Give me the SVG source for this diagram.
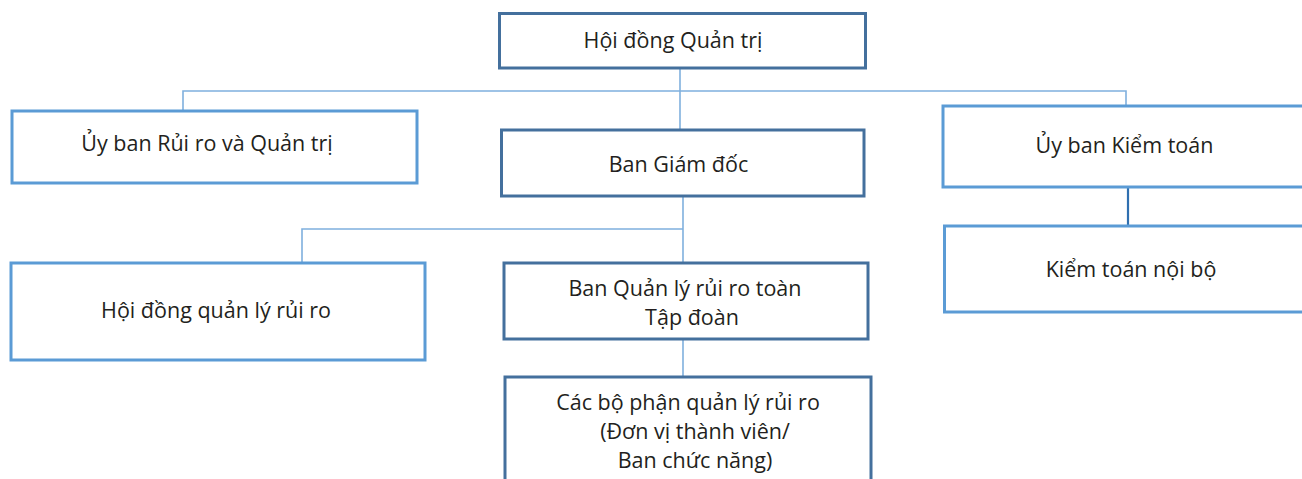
<svg xmlns="http://www.w3.org/2000/svg" width="1302" height="479" viewBox="0 0 1302 479">
<style>
.dark{fill:#fff;stroke:#44709d;stroke-width:3}
.light{fill:#fff;stroke:#5b9bd5;stroke-width:3}
.c{fill:none;stroke:#7fb0de;stroke-width:1.6}
.c2{fill:none;stroke:#2f6fb0;stroke-width:2.2}
text{font-family:"Open Sans","Noto Sans",sans-serif;font-size:21.5px;fill:#231f20;text-anchor:middle}
</style>
<rect width="1302" height="479" fill="#fff"/>
<g id="connectors">
<polyline class="c" points="183,111 183,91 1126,91 1126,106"/>
<line class="c" x1="680" y1="68" x2="680" y2="130"/>
<polyline class="c" points="302,263 302,229 683,229"/>
<line class="c" x1="683" y1="196" x2="683" y2="263"/>
<line class="c" x1="683" y1="339" x2="683" y2="377"/>
<line class="c2" x1="1128" y1="187" x2="1128" y2="226"/>
</g>
<g id="n1"><rect class="dark" x="499.5" y="13.5" width="366" height="54.5"/><text x="673" y="48">Hội đồng Quản trị</text></g>
<g id="n2"><rect class="light" x="12" y="111" width="405" height="72"/><text x="207" y="151">Ủy ban Rủi ro và Quản trị</text></g>
<g id="n3"><rect class="dark" x="501.5" y="130" width="362.5" height="66"/><text x="678.5" y="172">Ban Giám đốc</text></g>
<g id="n4"><rect class="light" x="943" y="106" width="380" height="81"/><text x="1124.5" y="153">Ủy ban Kiểm toán</text></g>
<g id="n5"><rect class="light" x="944.5" y="226" width="380" height="86"/><text x="1131" y="277">Kiểm toán nội bộ</text></g>
<g id="n6"><rect class="light" x="11" y="263" width="414" height="97"/><text x="216" y="318">Hội đồng quản lý rủi ro</text></g>
<g id="n7"><rect class="dark" x="504" y="263" width="364" height="76"/><text x="685" y="296">Ban Quản lý rủi ro toàn</text><text x="692" y="325">Tập đoàn</text></g>
<g id="n8"><rect class="dark" x="505" y="377" width="366" height="120"/><text x="688" y="410">Các bộ phận quản lý rủi ro</text><text x="695" y="439">(Đơn vị thành viên/</text><text x="695" y="468">Ban chức năng)</text></g>
</svg>
